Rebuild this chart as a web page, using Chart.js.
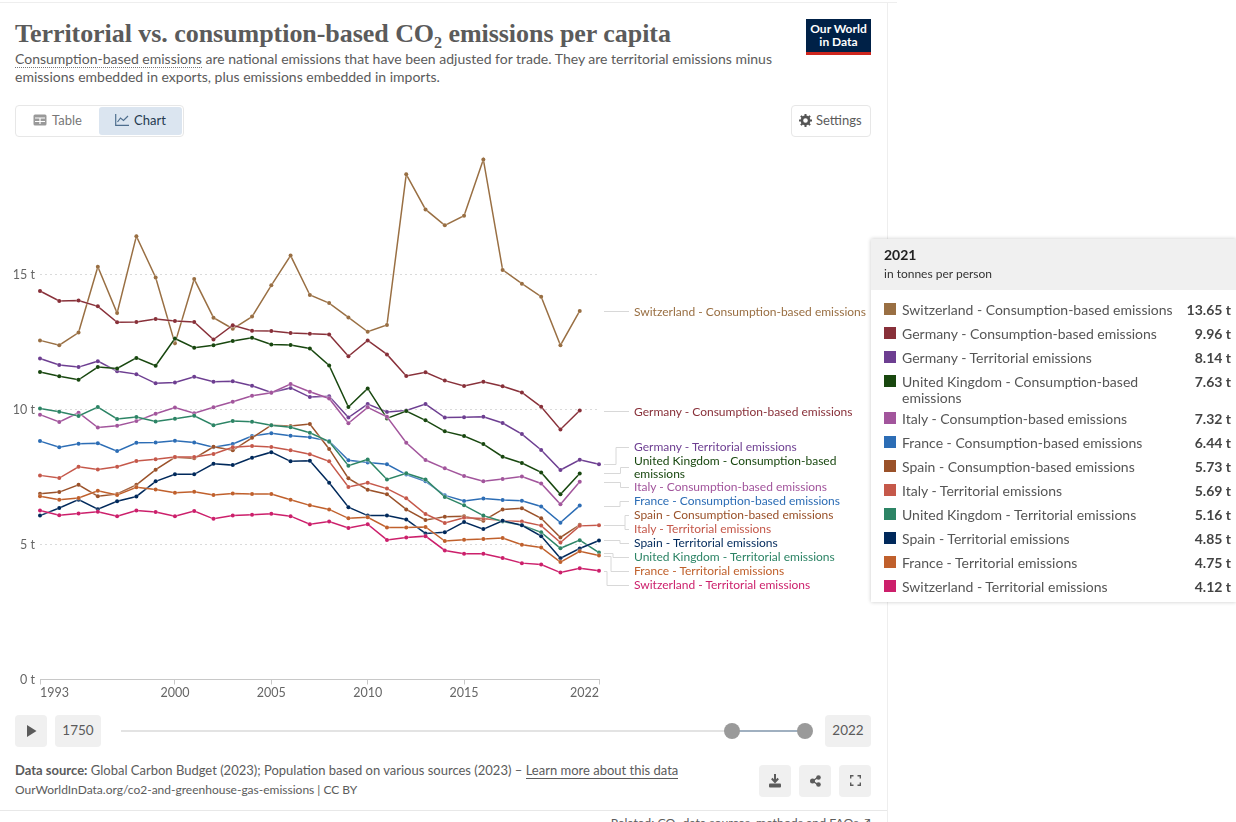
<!DOCTYPE html>
<html lang="en">
<head>
<meta charset="UTF-8">
<title>Territorial vs. consumption-based CO2 emissions per capita</title>
<script src="https://cdn.jsdelivr.net/npm/chart.js"></script>
<style>
    html, body { margin: 0; padding: 0; background: #fff; overflow: hidden; }
    body { width: 1236px; height: 822px; position: relative; font-family: Lato, sans-serif; color: #5b5b5b; }
    .abs { position: absolute; white-space: nowrap; }
    #frameTop { position: absolute; left: 0; top: 2px; width: 897px; height: 1px; background: #eee; }
    #frameRight { position: absolute; left: 887px; top: 2px; width: 1px; height: 820px; background: #eee; }
    #frameBottom { position: absolute; left: 0; top: 810px; width: 887px; height: 1px; background: #e8e8e8; }
    #title { left: 15px; top: 17px; font: bold 26px "Liberation Serif", serif; color: #5b5b5b; line-height: 34px; letter-spacing: -0.05px; }
    #title sub { font-size: 16px; line-height: 0; }
    .subtitle { left: 15px; font-size: 14px; line-height: 18px; color: #5b5b5b; }
    .dotted { border-bottom: 1px dotted #777; }
    #tabs { left: 15px; top: 105px; width: 167px; height: 30px; border: 1px solid #e7e7e7; border-radius: 4px; }
    #tabChart { position: absolute; left: 83px; top: 1px; width: 83px; height: 28px; background: #dbe5f0; border-radius: 3px; }
    .tabText { font-size: 13px; top: 113px; line-height: 15px; }
    #settings { left: 791px; top: 105px; width: 78px; height: 30px; border: 1px solid #e7e7e7; border-radius: 4px; }
    #logo { left: 806px; top: 19px; width: 65px; height: 33px; background: #002147; border-bottom: 3px solid #ce261e; color: #fff; text-align: center; font: bold 12px/12.5px Lato, sans-serif; padding-top: 0; }
    #logo div { padding-top: 4px; }
    #chartBox { position: absolute; left: 0; top: 130px; width: 886px; height: 580px; }
    .seriesLabel { font-size: 12px; line-height: 13px; left: 634px; }
    .btn { position: absolute; background: #f0f0f0; border-radius: 4px; }
    .btnText { text-align: center; font-size: 13.5px; line-height: 31px; color: #5b5b5b; }
    #track { left: 121px; top: 730px; width: 611px; height: 2px; background: #e3e3e3; }
    #range { left: 732px; top: 730px; width: 73px; height: 2px; background: #a0b0c0; }
    .handle { position: absolute; width: 16px; height: 16px; top: 723px; border-radius: 50%; background: #9a9a9a; }
    #source { left: 15px; top: 762px; font-size: 13px; line-height: 16px; }
    #source a { color: #5b5b5b; text-decoration: none; border-bottom: 1px solid #5b5b5b; }
    #url { left: 15px; top: 782px; font-size: 12px; line-height: 15px; }
    #related { right: 365px; top: 815px; font-size: 12.3px; line-height: 15px; }
    #tooltip { position: absolute; left: 871px; top: 239px; width: 365px; height: 363px; background: #fff; box-shadow: 0 0 4px rgba(0,0,0,.22); overflow: hidden; color: #333; }
    #ttHead { position: absolute; left: 0; top: 0; width: 100%; height: 51px; background: #f0f0f0; }
    #ttYear { position: absolute; left: 13px; top: 7px; font: bold 14px/18px Lato, sans-serif; color: #222; }
    #ttUnit { position: absolute; left: 13px; top: 27px; font-size: 12px; line-height: 15px; color: #333; }
    .ttRow { position: absolute; left: 0; width: 100%; font-size: 14px; line-height: 16px; color: #555; }
    .ttSwatch { position: absolute; left: 13px; top: 1px; width: 12px; height: 12px; }
    .ttName { position: absolute; left: 31px; width: 280px; white-space: normal; }
    .ttVal { position: absolute; right: 5px; font-weight: bold; color: #444; }
</style>
</head>
<body>
<div id="frameTop"></div><div id="frameRight"></div><div id="frameBottom"></div>

<div class="abs" id="title">Territorial vs. consumption-based CO<sub>2</sub> emissions per capita</div>
<div class="abs subtitle" style="top:50px"><span class="dotted">Consumption-based emissions</span> are national emissions that have been adjusted for trade. They are territorial emissions minus</div>
<div class="abs subtitle" style="top:68px">emissions embedded in exports, plus emissions embedded in imports.</div>
<div class="abs" id="logo"><div>Our World<br>in Data</div></div>

<div class="abs" id="tabs"><div id="tabChart"></div></div>
<svg class="abs" style="left:33px;top:114px" width="14" height="12" viewBox="0 0 14 12"><rect x="0.5" y="0.5" width="13" height="11" rx="1.5" fill="#999"/><path d="M2 4h10M2 7.5h10M7 4v6" stroke="#fff" stroke-width="1.2"/></svg>
<div class="abs tabText" style="left:52px;color:#777">Table</div>
<svg class="abs" style="left:115px;top:114px" width="14" height="12" viewBox="0 0 14 12"><path d="M.7 0v11.3H14M2.5 8l3-4 3 2.4L13 2" fill="none" stroke="#4e6e8e" stroke-width="1.2"/></svg>
<div class="abs tabText" style="left:134px;color:#23394f">Chart</div>

<div class="abs" id="settings"></div>
<svg class="abs" style="left:799px;top:114px" width="13" height="13" viewBox="0 0 13 13"><circle cx="6.5" cy="6.5" r="3.6" fill="none" stroke="#555" stroke-width="2.6"/><path d="M6.5 0v2.5M6.5 10.5V13M0 6.5h2.5M10.5 6.5H13M1.9 1.9l1.8 1.8M9.3 9.3l1.8 1.8M1.9 11.1l1.8-1.8M9.3 3.7l1.8-1.8" stroke="#555" stroke-width="2"/></svg>
<div class="abs tabText" style="left:816px;color:#5b5b5b">Settings</div>

<div id="chartBox"><canvas id="emissionsChart" width="886" height="580"></canvas></div>
<div id="seriesLabels"></div>

<div class="btn" style="left:15px;top:715px;width:32px;height:32px"></div>
<svg class="abs" style="left:26px;top:725px" width="11" height="12" viewBox="0 0 11 12"><path d="M1 0l9.5 6L1 12z" fill="#5b5b5b"/></svg>
<div class="btn btnText" style="left:55px;top:715px;width:46px;height:32px">1750</div>
<div class="abs" id="track"></div>
<div class="abs" id="range"></div>
<div class="handle" style="left:724px"></div>
<div class="handle" style="left:797px"></div>
<div class="btn btnText" style="left:825px;top:715px;width:46px;height:32px">2022</div>

<div class="abs" id="source"><b>Data source:</b> Global Carbon Budget (2023); Population based on various sources (2023) – <a>Learn more about this data</a></div>
<div class="abs" id="url">OurWorldInData.org/co2-and-greenhouse-gas-emissions | CC BY</div>
<div class="abs" id="related">Related: CO₂ data sources, methods and FAQs ↗</div>

<div class="btn" style="left:759px;top:765px;width:32px;height:32px"></div>
<svg class="abs" style="left:769px;top:774px" width="12" height="14" viewBox="0 0 12 14"><path d="M6 0v7M2.8 4.5L6 8l3.2-3.5" fill="none" stroke="#5b5b5b" stroke-width="2"/><rect x="0" y="9.5" width="12" height="4" rx="1" fill="#5b5b5b"/></svg>
<div class="btn" style="left:799px;top:765px;width:32px;height:32px"></div>
<svg class="abs" style="left:810px;top:775px" width="11" height="12" viewBox="0 0 11 12"><path d="M2.5 6l6-4M2.5 6l6 4" stroke="#5b5b5b" stroke-width="1.5"/><circle cx="2.5" cy="6" r="2.5" fill="#5b5b5b"/><circle cx="8.5" cy="2.5" r="2.3" fill="#5b5b5b"/><circle cx="8.5" cy="9.5" r="2.3" fill="#5b5b5b"/></svg>
<div class="btn" style="left:839px;top:765px;width:32px;height:32px"></div>
<svg class="abs" style="left:850px;top:775px" width="11" height="11" viewBox="0 0 11 11"><path d="M.7 3.5V.7h2.8M7.500 .7h2.800v2.800M10.300 7.500v2.800H7.500M3.500 10.300H.7V7.500" fill="none" stroke="#5b5b5b" stroke-width="1.4"/></svg>

<div id="tooltip">
    <div id="ttHead"><div id="ttYear">2021</div><div id="ttUnit">in tonnes per person</div></div>
    <div id="ttRows"></div>
</div>

<script>
    const years = [1993, 1994, 1995, 1996, 1997, 1998, 1999, 2000, 2001, 2002, 2003, 2004, 2005, 2006, 2007,
        2008, 2009, 2010, 2011, 2012, 2013, 2014, 2015, 2016, 2017, 2018, 2019, 2020, 2021, 2022];
    const xTickValues = [1993, 2000, 2005, 2010, 2015, 2022];
    const yTickValues = [0, 5, 10, 15];

    // consumption-based series stop at 2021, territorial ones run to 2022
    const switzerlandConsumption = [12.56, 12.38, 12.85, 15.29, 13.57, 16.42, 14.89, 12.45, 14.83, 13.40, 12.99, 13.44, 14.60, 15.70, 14.24,
        13.94, 13.41, 12.88, 13.13, 18.71, 17.41, 16.82, 17.18, 19.26, 15.17, 14.66, 14.18, 12.38, 13.65];
    const germanyConsumption = [14.39, 14.02, 14.04, 13.82, 13.23, 13.24, 13.35, 13.28, 13.24, 12.59, 13.12, 12.92, 12.91, 12.83, 12.81,
        12.78, 11.97, 12.56, 12.04, 11.24, 11.38, 11.07, 10.87, 11.03, 10.86, 10.63, 10.10, 9.26, 9.96];
    const germanyTerritorial = [11.89, 11.65, 11.57, 11.79, 11.42, 11.31, 10.97, 11.00, 11.21, 11.03, 11.05, 10.88, 10.63, 10.80, 10.46,
        10.49, 9.70, 10.20, 9.91, 9.96, 10.20, 9.70, 9.71, 9.73, 9.50, 9.09, 8.50, 7.76, 8.14, 7.97];
    const ukConsumption = [11.39, 11.23, 11.10, 11.57, 11.52, 11.91, 11.62, 12.63, 12.29, 12.38, 12.54, 12.66, 12.41, 12.39, 12.26,
        11.63, 10.09, 10.78, 9.67, 9.94, 9.60, 9.19, 9.02, 8.72, 8.25, 8.02, 7.67, 6.86, 7.63];
    const italyConsumption = [9.81, 9.54, 9.88, 9.33, 9.40, 9.57, 9.84, 10.07, 9.86, 10.08, 10.29, 10.51, 10.62, 10.94, 10.66,
        10.41, 9.49, 10.08, 9.73, 8.77, 8.13, 7.82, 7.54, 7.34, 7.43, 7.52, 7.26, 6.49, 7.32];
    const franceConsumption = [8.83, 8.60, 8.73, 8.75, 8.46, 8.77, 8.78, 8.84, 8.78, 8.60, 8.72, 9.02, 9.12, 9.03, 8.97,
        8.83, 8.12, 8.04, 7.97, 7.59, 7.34, 6.82, 6.61, 6.70, 6.65, 6.62, 6.41, 5.81, 6.44];
    const spainConsumption = [6.88, 6.94, 7.21, 6.79, 6.87, 7.21, 7.77, 8.23, 8.19, 8.62, 8.49, 8.95, 9.42, 9.39, 9.46,
        8.54, 7.45, 7.03, 6.86, 6.30, 5.91, 6.03, 6.05, 5.88, 6.30, 6.34, 5.97, 5.26, 5.73];
    const italyTerritorial = [7.56, 7.46, 7.88, 7.78, 7.88, 8.09, 8.16, 8.24, 8.24, 8.35, 8.60, 8.65, 8.61, 8.49, 8.34,
        8.08, 7.13, 7.29, 7.07, 6.71, 6.13, 5.80, 5.99, 5.96, 5.88, 5.85, 5.70, 5.07, 5.69, 5.71];
    const ukTerritorial = [10.04, 9.92, 9.76, 10.09, 9.65, 9.72, 9.56, 9.66, 9.77, 9.42, 9.57, 9.55, 9.42, 9.34, 9.14,
        8.81, 7.92, 8.15, 7.41, 7.64, 7.41, 6.76, 6.45, 6.07, 5.85, 5.71, 5.45, 4.86, 5.16, 4.70];
    const spainTerritorial = [6.07, 6.35, 6.66, 6.31, 6.60, 6.78, 7.34, 7.60, 7.60, 7.99, 7.94, 8.21, 8.42, 8.08, 8.10,
        7.29, 6.38, 6.07, 6.07, 5.93, 5.41, 5.45, 5.83, 5.57, 5.88, 5.71, 5.31, 4.49, 4.85, 5.15];
    const franceTerritorial = [6.79, 6.66, 6.72, 6.99, 6.83, 7.12, 7.04, 6.92, 6.95, 6.83, 6.89, 6.87, 6.87, 6.66, 6.45,
        6.30, 5.97, 6.01, 5.63, 5.63, 5.65, 5.13, 5.18, 5.20, 5.24, 4.99, 4.89, 4.35, 4.75, 4.59];
    const switzerlandTerritorial = [6.26, 6.08, 6.15, 6.21, 6.05, 6.26, 6.20, 6.05, 6.24, 5.95, 6.07, 6.10, 6.14, 6.05, 5.75,
        5.85, 5.61, 5.75, 5.17, 5.26, 5.31, 4.78, 4.66, 4.66, 4.50, 4.31, 4.26, 3.96, 4.12, 4.03];

    const seriesNames = [
        'Switzerland - Consumption-based emissions', 'Germany - Consumption-based emissions',
        'Germany - Territorial emissions', 'United Kingdom - Consumption-based emissions',
        'Italy - Consumption-based emissions', 'France - Consumption-based emissions',
        'Spain - Consumption-based emissions', 'Italy - Territorial emissions',
        'United Kingdom - Territorial emissions', 'Spain - Territorial emissions',
        'France - Territorial emissions', 'Switzerland - Territorial emissions'
    ];
    const seriesValues = [
        switzerlandConsumption, germanyConsumption, germanyTerritorial, ukConsumption,
        italyConsumption, franceConsumption, spainConsumption, italyTerritorial,
        ukTerritorial, spainTerritorial, franceTerritorial, switzerlandTerritorial
    ];
    const seriesColors = ['#996F43', '#883039', '#6D3E91', '#18470F', '#A2559C', '#2C6DB5',
        '#9A5129', '#C5584A', '#2C8465', '#00295B', '#C0602C', '#CC1F6B'];
    const tooltipValues = ['13.65 t', '9.96 t', '8.14 t', '7.63 t', '7.32 t', '6.44 t', '5.73 t', '5.69 t', '5.16 t', '4.85 t', '4.75 t', '4.12 t'];

    // right hand labels, same order as seriesNames: text top, connector end y, connector elbow x
    const labelTops = [304.5, 404.5, 440, 454, 480, 494, 508, 522, 550, 536, 564, 578];
    const labelEndY = [311, 411, 447, 466.5, 487, 501, 515, 529, 557, 543, 571, 585];
    const labelElbowX = [617, 617, 616, 620.5, 620.5, 620, 625, 625, 613, 620, 611, 607];
    const ttRowTops = [302, 326, 350, 374, 411, 435, 459, 483, 507, 531, 555, 579];

    const labelBox = document.getElementById('seriesLabels');
    seriesNames.forEach(function (name, i) {
        let el = document.createElement('div');
        el.className = 'abs seriesLabel';
        el.style.top = labelTops[i] + 'px';
        el.style.color = seriesColors[i];
        el.innerHTML = i === 3 ? 'United Kingdom - Consumption-based<br>emissions' : name;
        labelBox.appendChild(el);
    });

    const ttRows = document.getElementById('ttRows');
    seriesNames.forEach(function (name, i) {
        let row = document.createElement('div');
        row.className = 'ttRow';
        row.style.top = (ttRowTops[i] - 239) + 'px';
        row.innerHTML = '<div class="ttSwatch" style="background:' + seriesColors[i] + '"></div>' +
            '<div class="ttName">' + name + '</div><div class="ttVal">' + tooltipValues[i] + '</div>';
        ttRows.appendChild(row);
    });

    // white halo under the lines plus the grey connectors to the labels
    const lineExtras = {
        id: 'lineExtras',
        beforeDatasetDraw(chart) {
            chart.ctx.save();
            chart.ctx.shadowColor = 'rgba(255,255,255,0.9)';
            chart.ctx.shadowBlur = 2;
        },
        afterDatasetDraw(chart) {
            chart.ctx.restore();
        },
        afterDraw(chart) {
            let ctx = chart.ctx;
            let y = chart.scales.y;
            ctx.save();
            ctx.strokeStyle = '#d8d8d8';
            ctx.lineWidth = 1;
            seriesValues.forEach(function (values, i) {
                let startY = Math.round(y.getPixelForValue(values[values.length - 1])) + 0.5;
                let endY = Math.round(labelEndY[i] - 130) + 0.5;
                ctx.beginPath();
                ctx.moveTo(604, startY);
                ctx.lineTo(labelElbowX[i], startY);
                ctx.lineTo(labelElbowX[i], endY);
                ctx.lineTo(629, endY);
                ctx.stroke();
            });
            ctx.restore();
        }
    };

    new Chart(document.getElementById('emissionsChart').getContext('2d'), {
        type: 'line',
        data: {
            datasets: seriesNames.map(function (name, i) {
                return {
                    label: name,
                    data: seriesValues[i].map(function (v, j) { return { x: years[j], y: v }; }),
                    borderColor: seriesColors[i],
                    backgroundColor: seriesColors[i],
                    borderWidth: 1.5,
                    pointRadius: 2,
                    pointBorderWidth: 0,
                    tension: 0,
                    fill: false,
                    clip: false,
                    order: -i
                };
            })
        },
        plugins: [lineExtras],
        options: {
            responsive: false,
            animation: false,
            layout: { padding: { left: 0, right: 287, top: 9.5, bottom: 0 } },
            plugins: { legend: { display: false }, tooltip: { enabled: false } },
            events: [],
            scales: {
                x: {
                    type: 'linear',
                    min: 1993,
                    max: 2022,
                    afterBuildTicks(scale) { scale.ticks = xTickValues.map(function (v) { return { value: v }; }); },
                    afterFit(scale) { scale.height = 30.5; scale.paddingLeft = 0; scale.paddingRight = 0; },
                    border: { display: true, color: '#c8c8c8', width: 1 },
                    grid: { drawOnChartArea: false, drawTicks: true, tickLength: 5, color: '#c8c8c8' },
                    ticks: {
                        align: 'inner',
                        maxRotation: 0,
                        padding: 1,
                        color: '#666',
                        font: { family: 'Lato', size: 12.5 },
                        callback: function (v) { return String(v); }
                    }
                },
                y: {
                    min: 0,
                    max: 20,
                    afterBuildTicks(scale) { scale.ticks = yTickValues.map(function (v) { return { value: v }; }); },
                    afterFit(scale) { scale.width = 40; scale.paddingTop = 0; scale.paddingBottom = 0; },
                    border: { display: false, dash: [2, 3] },
                    grid: {
                        drawTicks: false,
                        color: function (c) { return c.tick && c.tick.value === 0 ? 'rgba(0,0,0,0)' : '#dadada'; }
                    },
                    ticks: {
                        padding: 5,
                        color: '#666',
                        font: { family: 'Lato', size: 12.5 },
                        callback: function (v) { return v + ' t'; }
                    }
                }
            }
        }
    });
</script>
</body>
</html>
